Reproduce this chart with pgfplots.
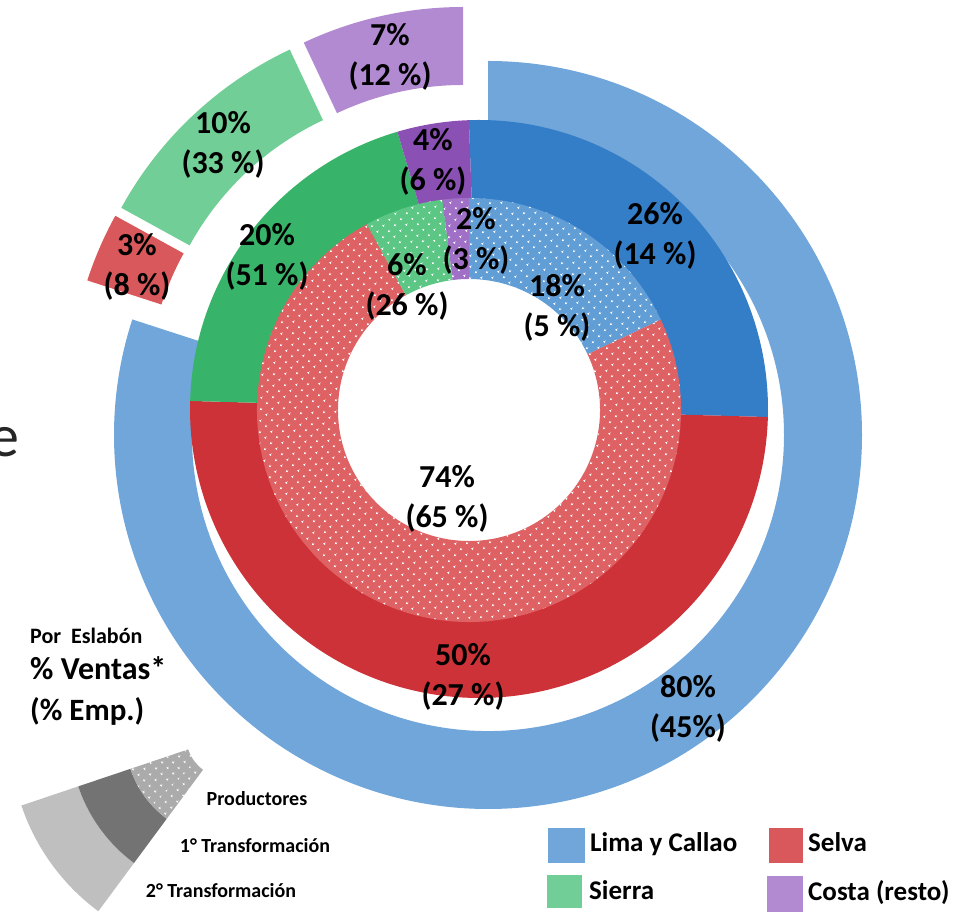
\documentclass[border=0pt]{standalone}
\usepackage{pgfplots}
\pgfplotsset{compat=1.18}
\usepackage{pgfplotstable}
\usepackage{fontspec}
\setmainfont{Carlito}
\usetikzlibrary{patterns,patterns.meta}

% ring colours (outer = light, mid = strong, inner = dotted)
\definecolor{limaO}{RGB}{112,166,218}
\definecolor{selvaO}{RGB}{216,88,92}
\definecolor{sierraO}{RGB}{112,206,150}
\definecolor{costaO}{RGB}{178,138,210}
\definecolor{limaM}{RGB}{52,126,200}
\definecolor{selvaM}{RGB}{205,50,56}
\definecolor{sierraM}{RGB}{56,180,106}
\definecolor{costaM}{RGB}{138,80,180}
\definecolor{limaI}{RGB}{98,158,214}
\definecolor{selvaI}{RGB}{222,98,100}
\definecolor{sierraI}{RGB}{92,198,132}
\definecolor{costaI}{RGB}{160,112,198}

\tikzdeclarepattern{name=wdots, type=uncolored,
  bottom left={(0pt,0pt)}, top right={(8pt,8pt)}, tile size={(8pt,8pt)},
  tile transformation={rotate=45},
  code={\pgfpathcircle{\pgfpoint{4pt}{4pt}}{1.2pt}\pgfusepath{fill}}}

\tikzset{
  outer lima/.style={fill=limaO},
  outer selva/.style={fill=selvaO},
  outer sierra/.style={fill=sierraO},
  outer costa/.style={fill=costaO},
  mid lima/.style={fill=limaM},
  mid selva/.style={fill=selvaM},
  mid sierra/.style={fill=sierraM},
  mid costa/.style={fill=costaM},
  inner lima/.style={fill=limaI, postaction={pattern=wdots, pattern color=white}},
  inner selva/.style={fill=selvaI, postaction={pattern=wdots, pattern color=white}},
  inner sierra/.style={fill=sierraI, postaction={pattern=wdots, pattern color=white}},
  inner costa/.style={fill=costaI, postaction={pattern=wdots, pattern color=white}},
  lbl/.style={font=\fontsize{32}{40}\selectfont\bfseries, align=center, inner sep=0pt},
  leg/.style={font=\fontsize{27}{32}\selectfont\bfseries, anchor=base west, inner sep=0pt},
  fanlbl/.style={font=\fontsize{20}{24}\selectfont\bfseries, inner sep=0pt},
}

% % ventas per ring, clockwise from 12 o'clock; cx/cy = slice centre (px)
\pgfplotstableread{
region pct emp cx  cy
lima   80  45  488 435
selva   3   8  443 396
sierra 10  33  449 388
costa   7  12  463 381
}\outerring
\pgfplotstableread{
region pct emp cx  cy
lima   26  14  479 409
selva  50  27  479 409
sierra 20  51  479 409
costa   4   6  479 409
}\midring
\pgfplotstableread{
region pct emp cx  cy
lima   18   5  469 410
selva  74  65  469 410
sierra  6  26  469 410
costa   2   3  469 410
}\innerring

% style, cx, cy, r inner, r outer, start angle, end angle
\newcommand\sector[7]{%
  \fill[#1] ([shift={(#6:#5pt)}]axis cs:#2,-#3) arc[start angle=#6, end angle=#7, radius=#5pt]
    -- ([shift={(#7:#4pt)}]axis cs:#2,-#3) arc[start angle=#7, end angle=#6, radius=#4pt] -- cycle;}

% table, r inner, r outer, style prefix, start angle
\newcommand\drawring[5]{%
  \pgfplotstablegetrowsof{#1}%
  \pgfmathtruncatemacro\nlast{\pgfplotsretval-1}%
  \xdef\acc{#5}%
  \foreach \k in {0,...,\nlast}{%
    \pgfplotstablegetelem{\k}{pct}\of{#1}\let\slpct\pgfplotsretval
    \pgfplotstablegetelem{\k}{region}\of{#1}\let\slreg\pgfplotsretval
    \pgfplotstablegetelem{\k}{cx}\of{#1}\let\slcx\pgfplotsretval
    \pgfplotstablegetelem{\k}{cy}\of{#1}\let\slcy\pgfplotsretval
    \pgfmathsetmacro\aend{\acc-3.6*\slpct}%
    \edef\slice{\noexpand\sector{#4 \slreg}{\slcx}{\slcy}{#2}{#3}{\acc}{\aend}}%
    \slice
    \xdef\acc{\aend}%
  }%
}

\begin{document}
\begin{tikzpicture}
\begin{axis}[
    x=1pt, y=1pt,
    xmin=0, xmax=961, ymin=-915, ymax=0,
    hide axis, clip=false,
    anchor=south west, at={(0,0)},
]
\coordinate (bbSW) at (axis cs:0,-915);
\coordinate (bbNE) at (axis cs:961,0);

\drawring{\outerring}{296}{374}{outer}{90}
\drawring{\midring}{196}{289}{mid}{92}
\drawring{\innerring}{131}{212}{inner}{90}

% labels: % ventas (% empresas)
\node[lbl] at (axis cs:688,-709) {80\%\\(45\%)};
\node[lbl] at (axis cs:137,-267) {3\%\\(8 \%)};
\node[lbl] at (axis cs:223,-145) {10\%\\(33 \%)};
\node[lbl] at (axis cs:390,-57) {7\%\\(12 \%)};
\node[lbl] at (axis cs:655,-236) {26\%\\(14 \%)};
\node[lbl] at (axis cs:463,-677) {50\%\\(27 \%)};
\node[lbl] at (axis cs:267,-257) {20\%\\(51 \%)};
\node[lbl] at (axis cs:433,-162) {4\%\\(6 \%)};
\node[lbl] at (axis cs:557,-308) {18\%\\(5 \%)};
\node[lbl] at (axis cs:447,-499) {74\%\\(65 \%)};
\node[lbl] at (axis cs:407,-287) {6\%\\(26 \%)};
\node[lbl] at (axis cs:476,-241) {2\%\\(3 \%)};

% left caption
\node[anchor=base east, inner sep=0pt, text=black!85, font=\fontsize{60}{60}\selectfont] at (axis cs:20,-457) {e};
\node[anchor=west, inner sep=0pt, font=\fontsize{22}{26}\selectfont\bfseries] at (axis cs:30,-636) {Por\ \ Eslabón};
\node[anchor=west, inner sep=0pt, font=\fontsize{32}{36}\selectfont\bfseries] at (axis cs:30,-668) {\% Ventas*};
\node[anchor=west, inner sep=0pt, font=\fontsize{31}{36}\selectfont\bfseries] at (axis cs:30,-711) {(\% Emp.)};

% key to the rings
\sector{fill=black!25}{228}{736}{158}{218}{198.6}{233.5}
\sector{fill=black!55}{228}{736}{103}{158}{198.6}{233.5}
\sector{fill=black!33, postaction={pattern=wdots, pattern color=white}}{228}{736}{42}{103}{198.6}{233.5}
\node[fanlbl] at (axis cs:257,-799) {Productores};
\node[fanlbl] at (axis cs:255,-846) {1° Transformación};
\node[fanlbl] at (axis cs:221,-891) {2° Transformación};

% legend
\fill[limaO] (axis cs:548,-828) rectangle (axis cs:585,-863);
\fill[selvaO] (axis cs:769,-828) rectangle (axis cs:803,-863);
\fill[sierraO] (axis cs:547,-875) rectangle (axis cs:582,-908);
\fill[costaO] (axis cs:767,-876) rectangle (axis cs:803,-912);
\node[leg] at (axis cs:590,-852) {Lima y Callao};
\node[leg] at (axis cs:808,-852) {Selva};
\node[leg] at (axis cs:589,-900) {Sierra};
\node[leg] at (axis cs:808,-901) {Costa (resto)};
\end{axis}
\pgfresetboundingbox
\path[use as bounding box] (bbSW) rectangle (bbNE);
\end{tikzpicture}
\end{document}
